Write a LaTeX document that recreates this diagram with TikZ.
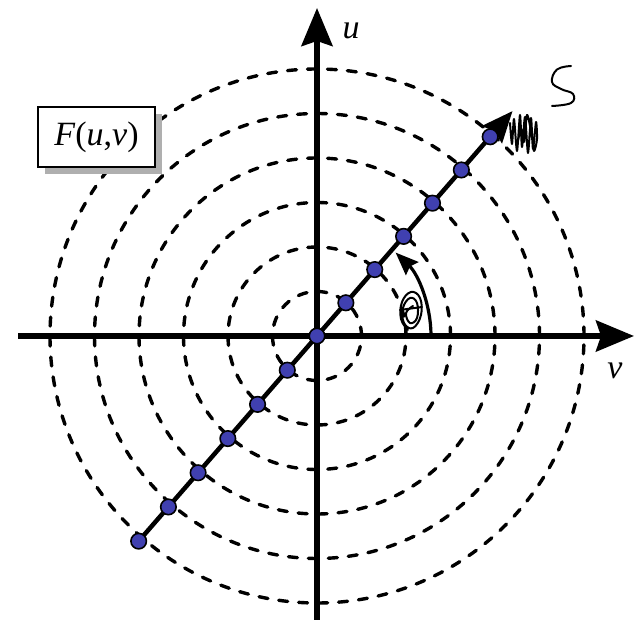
\documentclass[tikz,border=0pt]{standalone}
\usepackage{fontspec}
\setmainfont{Liberation Serif}
\usetikzlibrary{arrows.meta}
\definecolor{dotblue}{RGB}{64,64,176}
\definecolor{shadowgray}{RGB}{175,175,175}
\begin{document}
\begin{tikzpicture}[x=1pt,y=1pt,
 axis/.style={line width=5.5pt, -{Stealth[length=38pt,width=31pt,inset=5pt]}},
 ring/.style={line width=3.4pt, line cap=round, dash pattern=on 9pt off 11pt},
 ray/.style={line width=4.5pt, -{Stealth[length=31pt,width=26pt,inset=4pt]}},
 anglearc/.style={line width=3.2pt, -{Stealth[length=23pt,width=18pt,inset=3pt]}},
 dotnode/.style={circle, fill=dotblue, draw=black, line width=1.6pt, minimum size=15.5pt, inner sep=0pt},
 scribble/.style={line width=2pt, line join=round, line cap=round},
 lbl/.style={font=\fontsize{34}{34}\selectfont\itshape, inner sep=0pt},
 fbox/.style={draw=black, line width=2pt, fill=white, minimum width=117pt, minimum height=60pt, inner sep=0pt, font=\fontsize{34}{34}\selectfont}]
\useasboundingbox (0,0) rectangle (637,629);
\coordinate (O) at (317,293);
% dashed rings
\foreach \k in {1,...,6}
  \draw[ring] (O) circle[radius=44.5*\k];
% axes
\coordinate (xl) at (18,293);
\coordinate (xr) at (634,293);
\coordinate (yb) at (317,9);
\coordinate (yt) at (317,621);
\draw[axis] (xl) -- (xr);
\draw[axis] (yb) -- (yt);
\node[lbl] (ulab) at (351,598) {u};
\node[lbl] (vlab) at (615,258) {v};
% ray
\coordinate (tip) at ([shift={(49:298)}]O);
\coordinate (rayend) at ([shift={(49:-272)}]O);
\draw[ray] (rayend) -- (tip);
% angle arc
\draw[anglearc] (O) ++(0:114) arc[start angle=0, end angle=46, radius=116];
% dots
\foreach \k in {1,...,6}
  \node[dotnode] (dp\k) at ([shift={(49:44*\k)}]O) {};
\foreach \k in {1,...,6}
  \node[dotnode] (dm\k) at ([shift={(49:-45.3*\k)}]O) {};
\node[dotnode] (d0) at (O) {};
% F(u,v) box with shadow
\fill[shadowgray] (45,455) rectangle (162,515);
\node[fbox] (F) at (96.5,492) {\textit{F}(\textit{u},\textit{v})};
% handwritten S
\draw[scribble] plot[smooth, tension=0.7] coordinates {(571,563) (557,559.5) (552,547) (561,540) (573,535) (571,526) (552,523)};
% scribble at ray tip
\draw[scribble] plot[smooth, tension=0.45] coordinates {(510,506) (512,485) (514,510) (517,478) (520,514) (522,482) (525,512) (528,476) (531,511) (533,480) (536,507) (537,490) (534,478) (531,498) (527,514) (524,487) (521,500) (518,488)};
% scribble theta
\draw[scribble] plot[smooth, tension=0.7] coordinates {(408,299) (401,310) (402,327) (411,337) (420,331) (421,314) (413,301) (404,306) (403,321) (410,331) (417,326) (417,311) (410,306) (406,316) (413,323)};
\draw[scribble] (400,319) -- (422,322);
\end{tikzpicture}
\end{document}
